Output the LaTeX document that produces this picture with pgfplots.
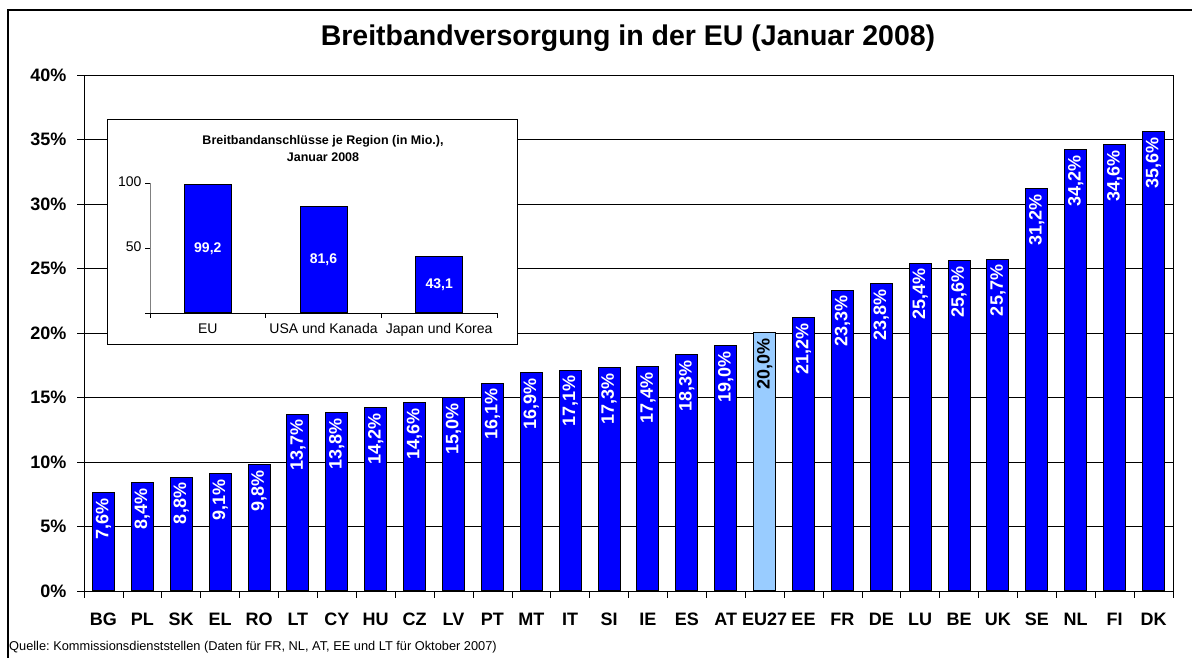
\documentclass[border=0pt]{standalone}
\usepackage{pgfplots}
\usepackage{pgfplotstable}
\pgfplotsset{compat=1.18}
\usepackage{fontspec}
\setmainfont{Liberation Sans}
\frenchspacing
\definecolor{barblue}{RGB}{0,0,255}
\definecolor{eublue}{RGB}{153,204,255}
\pgfkeys{/pgf/number format/assume math mode=true}

\pgfplotstableread{
x y
0 7.6
1 8.4
2 8.8
3 9.1
4 9.8
5 13.7
6 13.8
7 14.2
8 14.6
9 15.0
10 16.1
11 16.9
12 17.1
13 17.3
14 17.4
15 18.3
16 19.0
18 21.2
19 23.3
20 23.8
21 25.4
22 25.6
23 25.7
24 31.2
25 34.2
26 34.6
27 35.6
}\maindata

\pgfplotstableread{
x y
17 20.0
}\eudata

\pgfplotstableread{
x y
0 99.2
1 81.6
2 43.1
}\insetdata

\begin{document}
\begin{tikzpicture}
\useasboundingbox (0pt,0pt) rectangle (1192pt,658pt);
\draw[line width=1.2pt] (8pt,0pt) -- (8pt,648pt) -- (1192pt,648pt);

\begin{axis}[
  at={(84pt,67pt)}, anchor=south west,
  width=1089pt, height=516pt, scale only axis,
  xmin=-0.5, xmax=27.5, ymin=0, ymax=40,
  ytick={0,5,...,40},
  yticklabel={\pgfmathprintnumber{\tick}\%},
  ymajorgrids, major grid style={black, line width=0.6pt},
  xtick={0,...,27},
  xticklabels={BG,PL,SK,EL,RO,LT,CY,HU,CZ,LV,PT,MT,IT,SI,IE,ES,AT,EU27,EE,FR,DE,LU,BE,UK,SE,NL,FI,DK},
  major x tick style={draw=none},
  minor xtick={-0.5,0.5,...,27.5},
  minor x tick style={black, line width=0.6pt},
  minor tick length=7pt, major tick length=7pt,
  tick align=outside, xtick pos=bottom, ytick pos=left,
  tick style={black, line width=0.6pt},
  axis line style={black, line width=0.8pt},
  ticklabel style={font=\bfseries\fontsize{18}{20}\selectfont, text height=13pt, text depth=0pt},
  xticklabel style={yshift=-11pt},
  yticklabel style={xshift=-7pt},
]
\addplot[ybar, bar width=22pt, bar shift=0pt, fill=barblue, draw=black, line width=1pt,
  nodes near coords={\pgfmathprintnumber[fixed,fixed zerofill,precision=1,use comma]{\pgfplotspointmeta}\%},
  nodes near coords style={rotate=90, anchor=east, text=white, font=\bfseries\fontsize{18}{20}\selectfont, inner sep=5pt}
] table[x=x,y=y] {\maindata};
\addplot[ybar, bar width=22pt, bar shift=0pt, fill=eublue, draw=black, line width=1pt,
  nodes near coords={\pgfmathprintnumber[fixed,fixed zerofill,precision=1,use comma]{\pgfplotspointmeta}\%},
  nodes near coords style={rotate=90, anchor=east, text=black, font=\bfseries\fontsize{18}{20}\selectfont, inner sep=5pt}
] table[x=x,y=y] {\eudata};
\end{axis}

\node[font=\bfseries\fontsize{28.5}{32}\selectfont] at (628pt,620pt) {Breitbandversorgung in der EU (Januar 2008)};

\filldraw[fill=white, draw=black, line width=1pt] (107pt,313pt) rectangle (517pt,538pt);

\begin{axis}[
  at={(150pt,345pt)}, anchor=south west,
  width=347pt, height=130pt, scale only axis,
  xmin=-0.5, xmax=2.5, ymin=0, ymax=100,
  axis x line*=bottom, axis y line*=left,
  x axis line style={black, line width=0.8pt},
  y axis line style={gray, line width=0.8pt},
  ytick={0,50,100}, yticklabels={,50,100},
  xtick={0,1,2}, xticklabels={EU,USA und Kanada,Japan und Korea},
  major x tick style={draw=none},
  minor xtick={-0.5,0.5,1.5,2.5},
  minor x tick style={black, line width=0.6pt},
  tick align=outside, minor tick length=5pt, major tick length=5pt,
  y tick style={black, line width=0.6pt},
  ticklabel style={font=\fontsize{14}{16}\selectfont, text height=10pt, text depth=3pt},
  xticklabel style={yshift=-2pt},
]
\addplot[ybar, bar width=47pt, bar shift=0pt, fill=barblue, draw=black, line width=1pt] table[x=x,y=y] {\insetdata};
\addplot[draw=none, mark=none,
  nodes near coords={\pgfmathprintnumber[fixed,fixed zerofill,precision=1,use comma]{\pgfplotspointmeta}},
  point meta=explicit,
  nodes near coords style={anchor=center, text=white, font=\bfseries\fontsize{14}{16}\selectfont}
] table[x=x, y expr=\thisrow{y}/2, meta=y] {\insetdata};
\end{axis}

\node[font=\bfseries\fontsize{12.5}{17}\selectfont, align=center] at (323pt,509pt) {Breitbandanschlüsse je Region (in Mio.),\\Januar 2008};

\node[anchor=base west, inner sep=0pt, font=\fontsize{12.8}{14}\selectfont] at (9pt,7pt) {Quelle: Kommissionsdienststellen (Daten für FR, NL, AT, EE und LT für Oktober 2007)};
\end{tikzpicture}
\end{document}
